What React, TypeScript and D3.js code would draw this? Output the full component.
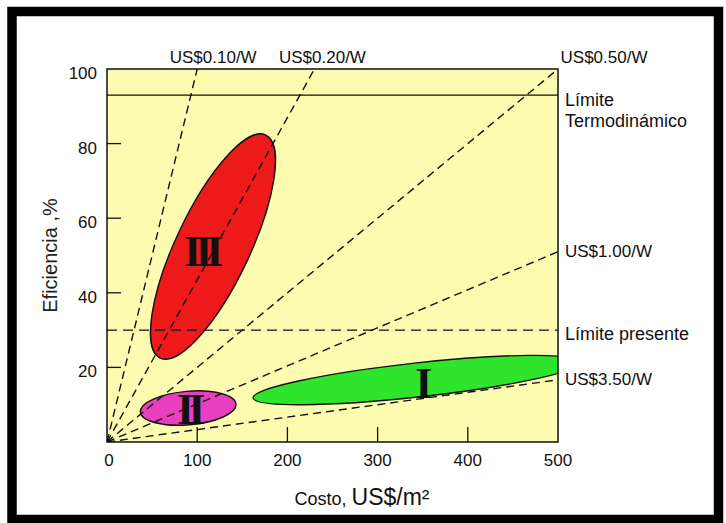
import React from 'react';
import * as d3 from 'd3';

// cost lines: label and cost (US$/m²) reached at 100 % efficiency
const costLabels = ['US$0.10/W', 'US$0.20/W', 'US$0.50/W', 'US$1.00/W', 'US$3.50/W'];
const costAtFull = [100, 230, 500, 980, 3000];

// horizontal limits (efficiency %)
const thermoLimit = 93;
const presentLimit = 30;

// regions: centre and end of major axis (cost, efficiency), minor/major ratio
const regionNames = ['I', 'II', 'III'];
const regionCenter: [number, number][] = [[343, 16.6], [90, 9.1], [117.5, 52.4]];
const regionTip: [number, number][] = [[524, 21.4], [143, 10.2], [176, 82.3]];
const regionRatio = [0.104, 0.35, 0.3];
const regionColors = ['#2fe52c', '#e83fbe', '#ee1a1a'];
const regionLabelAt: [number, number][] = [[348, 15.8], [90, 8.8], [104, 51]];

const xTicks = [0, 100, 200, 300, 400, 500];
const yTicks = [20, 40, 60, 80, 100];

const W = 726;
const H = 523;
const sans = '"Liberation Sans", Arial, sans-serif';
const serif = '"Liberation Serif", "Times New Roman", serif';

export default function App() {
  const x = d3.scaleLinear().domain([0, 500]).range([107, 558]);
  const y = d3.scaleLinear().domain([0, 100]).range([442, 69]);
  const [x0, x1] = x.range();
  const [y0, y1] = y.range();

  const lineEnd = (s: number): [number, number] =>
    s <= 500 ? [s, 100] : [500, (500 / s) * 100];

  return (
    <svg width={W} height={H} style={{ position: 'fixed', left: 0, top: 0 }}>
      <rect x={0} y={0} width={W} height={H} fill="#fff" />
      <rect x={12} y={11.5} width={706.5} height={508} fill="#fff" stroke="#000" strokeWidth={9.5} />
      <defs>
        <clipPath id="plot">
          <rect x={x0} y={y1} width={x1 - x0} height={y0 - y1} />
        </clipPath>
      </defs>
      <rect x={x0} y={y1} width={x1 - x0} height={y0 - y1} fill="#fdfbb0" />

      <g clipPath="url(#plot)">
        {regionNames.map((name, i) => {
          const cx = x(regionCenter[i][0]);
          const cy = y(regionCenter[i][1]);
          const tx = x(regionTip[i][0]);
          const ty = y(regionTip[i][1]);
          const a = Math.hypot(tx - cx, ty - cy);
          const ang = (Math.atan2(ty - cy, tx - cx) * 180) / Math.PI;
          return (
            <ellipse
              key={name}
              cx={cx}
              cy={cy}
              rx={a}
              ry={a * regionRatio[i]}
              transform={`rotate(${ang} ${cx} ${cy})`}
              fill={regionColors[i]}
              stroke="#111"
              strokeWidth={1.4}
            />
          );
        })}
        {costAtFull.map((s, i) => {
          const [ex, ey] = lineEnd(s);
          return (
            <line
              key={costLabels[i]}
              x1={x(0)}
              y1={y(0)}
              x2={x(ex)}
              y2={y(ey)}
              stroke="#111"
              strokeWidth={1.4}
              strokeDasharray="8,5"
            />
          );
        })}
        <line x1={x0} x2={x1} y1={y(presentLimit)} y2={y(presentLimit)} stroke="#111" strokeWidth={1.4} strokeDasharray="10,6" />
        <line x1={x0} x2={x1} y1={y(thermoLimit)} y2={y(thermoLimit)} stroke="#111" strokeWidth={1.2} />
        {regionNames.map((name, i) => (
          <text
            key={name}
            x={x(regionLabelAt[i][0])}
            y={y(regionLabelAt[i][1])}
            fontFamily={serif}
            fontSize={44}
            fontWeight="bold"
            letterSpacing={-6}
            textAnchor="middle"
            dominantBaseline="central"
            fill="#111"
          >
            {name}
          </text>
        ))}
      </g>

      <rect x={x0} y={y1} width={x1 - x0} height={y0 - y1} fill="none" stroke="#111" strokeWidth={1.5} />

      {/* ticks drawn inward */}
      {xTicks.filter((t) => t > 0 && t < 500).map((t) => (
        <line key={t} x1={x(t)} x2={x(t)} y1={y0} y2={y0 - 15} stroke="#111" strokeWidth={1.3} />
      ))}
      {yTicks.filter((t) => t < 100).map((t) => (
        <line key={t} x1={x0} x2={x0 + 14} y1={y(t)} y2={y(t)} stroke="#111" strokeWidth={1.3} />
      ))}

      {xTicks.map((t) => (
        <text key={t} x={x(t) + (t === 0 ? 2 : 0)} y={466} fontFamily={sans} fontSize={17} textAnchor="middle" fill="#111">
          {t}
        </text>
      ))}
      {yTicks.map((t) => (
        <text key={t} x={97} y={y(t) + 10} fontFamily={sans} fontSize={17} textAnchor="end" fill="#111">
          {t}
        </text>
      ))}

      {/* cost line labels */}
      {costAtFull.map((s, i) => {
        const [ex, ey] = lineEnd(s);
        if (ey >= 100) {
          const dx = [16, 8, 46][i];
          return (
            <text key={costLabels[i]} x={x(ex) + dx} y={63} fontFamily={sans} fontSize={17} textAnchor="middle" fill="#111">
              {costLabels[i]}
            </text>
          );
        }
        return (
          <text key={costLabels[i]} x={565} y={y(ey) + 5} fontFamily={sans} fontSize={17} fill="#111">
            {costLabels[i]}
          </text>
        );
      })}

      <text x={565} y={y(thermoLimit) + 11} fontFamily={sans} fontSize={18} fill="#111">
        <tspan x={565}>Límite</tspan>
        <tspan x={565} dy={21}>Termodinámico</tspan>
      </text>
      <text x={565} y={y(presentLimit) + 10} fontFamily={sans} fontSize={18} fill="#111">
        Límite presente
      </text>

      <text x={362} y={505} fontFamily={sans} textAnchor="middle" fill="#111">
        <tspan fontSize={18}>Costo, </tspan>
        <tspan fontSize={23}>US$/m²</tspan>
      </text>
      <text
        transform={`translate(57, ${(y0 + y1) / 2}) rotate(-90)`}
        fontFamily={sans}
        fontSize={20}
        textAnchor="middle"
        fill="#222"
      >
        Eficiencia ,%
      </text>
    </svg>
  );
}
